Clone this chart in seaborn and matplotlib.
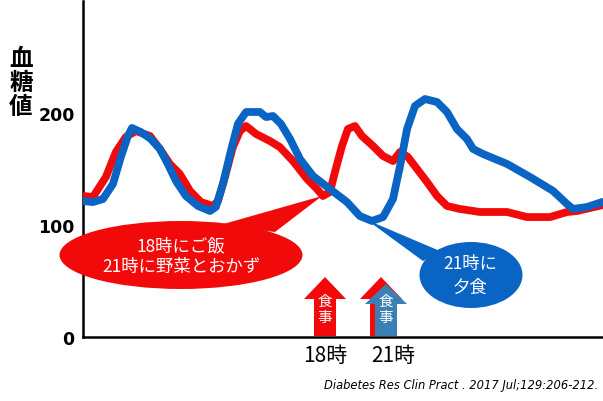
import numpy as np
import pandas as pd
import matplotlib
matplotlib.use("Agg")
import matplotlib.pyplot as plt
import seaborn as sns
from matplotlib.patches import Ellipse, Polygon

# ---------------- data ----------------
red_hours = [7.33, 7.77, 8.34, 8.78, 9.22, 9.66, 10.28, 10.72, 11.16, 11.60, 12.05, 12.53,
             13.06, 13.28, 13.59, 13.94, 14.25, 14.52, 14.96, 15.57, 16.01, 16.59, 17.21,
             17.65, 17.91, 18.22, 18.44, 18.75, 19.01, 19.32, 19.63, 20.12, 20.56, 21.00,
             21.31, 21.66, 22.06, 22.50, 22.94, 23.38, 23.95, 24.84, 26.03, 26.91, 27.93,
             28.67, 29.12, 30.26]
red_glucose = [125.9, 125.0, 142.9, 165.2, 178.6, 183.9, 179.5, 167.9, 154.5, 145.5, 130.4, 120.5,
               117.0, 121.4, 142.9, 169.6, 183.9, 188.4, 181.3, 175.0, 169.6, 157.1, 141.1,
               132.1, 125.9, 129.5, 147.3, 170.5, 185.7, 188.4, 179.5, 170.5, 161.6, 157.1,
               165.2, 160.7, 150.0, 138.4, 125.9, 117.0, 114.3, 111.6, 111.6, 107.1, 107.1,
               111.6, 112.5, 117.9]

blue_hours = [7.33, 7.77, 8.21, 8.65, 9.00, 9.31, 9.49, 9.88, 10.32, 10.72, 11.07, 11.43,
              11.87, 12.40, 12.93, 13.19, 13.50, 13.85, 14.16, 14.52, 15.13, 15.40, 15.71,
              16.06, 16.46, 16.90, 17.47, 18.22, 18.97, 19.54, 20.07, 20.56, 21.00, 21.31,
              21.62, 21.97, 22.41, 22.94, 23.38, 23.82, 24.26, 24.53, 24.97, 26.03, 27.04,
              28.06, 28.67, 28.94, 29.56, 30.22]
blue_glucose = [121.4, 120.5, 123.2, 136.6, 160.7, 179.5, 186.6, 183.0, 176.8, 167.9, 154.5, 139.3,
                125.9, 117.0, 112.5, 116.1, 136.6, 166.1, 190.2, 200.9, 200.9, 196.4, 197.3,
                190.2, 176.8, 158.9, 143.8, 132.1, 120.5, 108.0, 103.6, 107.1, 123.2, 152.7,
                185.7, 206.3, 212.5, 209.8, 200.9, 185.7, 176.8, 167.9, 163.4, 154.5, 142.9,
                130.4, 118.8, 114.3, 116.1, 120.5]

series_names = ["18時にご飯・21時に野菜とおかず", "21時に夕食"]
y_ticks = [0, 100, 200]
x_ticks = [18, 21]
x_tick_labels = ["18時", "21時"]
y_label = "血\n糖\n値"
red_callout = "18時にご飯\n21時に野菜とおかず"
blue_callout = "21時に\n夕食"
meal_label = "食\n事"
citation = "Diabetes Res Clin Pract . 2017 Jul;129:206-212."

df = pd.concat([
    pd.DataFrame({"hour": red_hours, "glucose": red_glucose, "group": series_names[0]}),
    pd.DataFrame({"hour": blue_hours, "glucose": blue_glucose, "group": series_names[1]}),
], ignore_index=True)

# ---------------- style ----------------
sns.set_theme(style="white")
plt.rcParams["font.family"] = ["Noto Sans CJK JP", "DejaVu Sans"]

RED = "#f20a0a"
BLUE = "#0a64c4"
ARROW_BLUE = "#3a80b5"
W, H = 603, 402

fig = plt.figure(figsize=(W / 100, H / 100), dpi=100)
ax = fig.add_axes([83 / W, 64 / H, (W - 83) / W, 336 / H])

sns.lineplot(data=df, x="hour", y="glucose", hue="group", hue_order=series_names,
             palette=[RED, BLUE], linewidth=5.6, legend=False, ax=ax, sort=False,
             solid_capstyle="round", solid_joinstyle="round", zorder=3)

ax.set_xlim(7.33, 30.26)
ax.set_ylim(0, 300)
ax.set_xlabel("")
ax.set_ylabel("")
ax.set_yticks(y_ticks)
ax.set_yticklabels([str(t) for t in y_ticks], fontsize=12.5, fontweight="bold",
                   family="DejaVu Sans", color="black")
ax.set_xticks(x_ticks)
ax.set_xticklabels(x_tick_labels, fontsize=15, color="black")
ax.tick_params(axis="both", length=0)
ax.tick_params(axis="y", pad=6)
ax.tick_params(axis="x", pad=5)
for s in ["top", "right"]:
    ax.spines[s].set_visible(False)
for s in ["left", "bottom"]:
    ax.spines[s].set_color("black")
    ax.spines[s].set_linewidth(1.8)
ax.grid(False)


def P(x, y):
    return (x / W, 1 - y / H)


tf = fig.transFigure

# y label
fig.text(*P(21, 83), y_label, ha="center", va="center", fontsize=17,
         fontweight="bold", linespacing=1.0, color="black")

# red callout
ax.add_patch(Polygon([P(220, 226), P(275, 233), P(322, 197)], closed=True,
                     transform=tf, facecolor=RED, edgecolor="none", zorder=5, clip_on=False))
ax.add_patch(Ellipse(P(181, 256), 243 / W, 68 / H, transform=tf, facecolor=RED,
                     edgecolor="none", zorder=5, clip_on=False))
fig.text(*P(181, 257), red_callout, ha="center", va="center", fontsize=12.5,
         color="white", linespacing=1.2, zorder=6)

# blue callout
ax.add_patch(Polygon([P(423, 262), P(440, 252), P(367, 221)], closed=True,
                     transform=tf, facecolor=BLUE, edgecolor="none", zorder=5, clip_on=False))
ax.add_patch(Ellipse(P(471, 276), 103 / W, 66 / H, transform=tf, facecolor=BLUE,
                     edgecolor="none", zorder=5, clip_on=False))
fig.text(*P(470, 276), blue_callout, ha="center", va="center", fontsize=12.5,
         color="white", linespacing=1.42, zorder=6)


def arrow(cx, tip, base, color, z, label=True):
    hw, sw = 21, 11
    pts = [P(cx, tip), P(cx + hw, base), P(cx + sw, base), P(cx + sw, 337),
           P(cx - sw, 337), P(cx - sw, base), P(cx - hw, base)]
    ax.add_patch(Polygon(pts, closed=True, transform=tf, facecolor=color,
                         edgecolor="none", zorder=z, clip_on=False))
    if label:
        fig.text(*P(cx, 310), meal_label, ha="center", va="center", fontsize=10.5,
                 color="white", linespacing=1.25, zorder=z + 0.5)


arrow(325, 278, 300, RED, 7)
arrow(381, 278, 300, RED, 7, label=False)
arrow(386, 285, 305, ARROW_BLUE, 8)

# citation
fig.text(*P(598, 386), citation, ha="right", va="center", fontsize=8.3,
         style="italic", family="DejaVu Sans", color="black")

fig.savefig("out.png", dpi=100)
